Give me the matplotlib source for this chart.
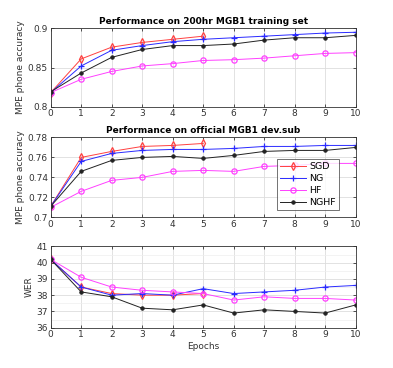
import matplotlib
matplotlib.use('Agg')
import matplotlib.pyplot as plt
import numpy as np
from matplotlib.ticker import MultipleLocator

plt.rcParams['font.family'] = 'DejaVu Sans'
plt.rcParams['font.size'] = 6.5
plt.rcParams['xtick.direction'] = 'in'
plt.rcParams['ytick.direction'] = 'in'
plt.rcParams['axes.edgecolor'] = '#333333'
plt.rcParams['xtick.color'] = '#333333'
plt.rcParams['ytick.color'] = '#333333'

epochs = np.arange(11)
epochs_sgd = np.arange(6)

# training set MPE accuracy
train_sgd = [0.818, 0.861, 0.876, 0.882, 0.886, 0.890]
train_ng = [0.818, 0.852, 0.872, 0.878, 0.883, 0.886, 0.888, 0.890, 0.892, 0.894, 0.895]
train_hf = [0.818, 0.835, 0.845, 0.852, 0.855, 0.859, 0.860, 0.862, 0.865, 0.868, 0.869]
train_nghf = [0.819, 0.843, 0.863, 0.873, 0.878, 0.878, 0.880, 0.885, 0.888, 0.888, 0.891]

# dev.sub MPE accuracy
dev_sgd = [0.711, 0.760, 0.766, 0.771, 0.772, 0.774]
dev_ng = [0.711, 0.756, 0.764, 0.767, 0.768, 0.768, 0.769, 0.771, 0.771, 0.772, 0.772]
dev_hf = [0.710, 0.726, 0.737, 0.740, 0.746, 0.747, 0.746, 0.751, 0.752, 0.754, 0.754]
dev_nghf = [0.711, 0.746, 0.757, 0.760, 0.761, 0.759, 0.762, 0.766, 0.767, 0.767, 0.770]

# dev.sub WER
wer_sgd = [40.2, 38.5, 38.1, 38.0, 38.0, 38.1]
wer_ng = [40.2, 38.5, 38.0, 38.1, 38.0, 38.4, 38.1, 38.2, 38.3, 38.5, 38.6]
wer_hf = [40.2, 39.1, 38.5, 38.3, 38.2, 38.1, 37.7, 37.9, 37.8, 37.8, 37.7]
wer_nghf = [40.2, 38.2, 37.9, 37.2, 37.1, 37.4, 36.9, 37.1, 37.0, 36.9, 37.4]

labels = ['SGD', 'NG', 'HF', 'NGHF']


def draw(ax, sgd, ng, hf, nghf):
    ax.plot(epochs_sgd, sgd, color='#ff4040', marker='d', mfc='none', mew=0.9,
            markersize=3.8, lw=0.7, label=labels[0])
    ax.plot(epochs, ng, color='#2a2aff', marker='+', mew=0.9,
            markersize=4.2, lw=0.7, label=labels[1])
    ax.plot(epochs, hf, color='#ff40ff', marker='o', mfc='none', mew=0.9,
            markersize=3.8, lw=0.7, label=labels[2])
    ax.plot(epochs, nghf, color='#222222', marker='o', mew=0.5,
            markersize=2.6, lw=0.7, label=labels[3])
    ax.set_xlim(0, 10)
    ax.set_xticks(epochs)
    ax.grid(True, color='#dddddd', lw=0.6)
    ax.set_axisbelow(True)
    ax.tick_params(length=2.5, width=0.6, top=True, right=True, pad=2)
    for s in ax.spines.values():
        s.set_linewidth(0.6)


fig = plt.figure(figsize=(3.93, 3.68), dpi=100)
ax1 = fig.add_axes([0.129, 0.710, 0.776, 0.213])
ax2 = fig.add_axes([0.129, 0.4095, 0.776, 0.217])
ax3 = fig.add_axes([0.129, 0.1095, 0.776, 0.221])

draw(ax1, train_sgd, train_ng, train_hf, train_nghf)
ax1.set_ylim(0.8, 0.9)
ax1.set_yticks([0.8, 0.85, 0.9])
ax1.set_yticklabels(['0.8', '0.85', '0.9'])
ax1.set_title('Performance on 200hr MGB1 training set', fontsize=6.5,
              fontweight='bold', pad=3)
ax1.set_ylabel('MPE phone accuracy', color='#333333', labelpad=2)

draw(ax2, dev_sgd, dev_ng, dev_hf, dev_nghf)
ax2.set_ylim(0.7, 0.78)
ax2.set_yticks([0.7, 0.72, 0.74, 0.76, 0.78])
ax2.set_yticklabels(['0.7', '0.72', '0.74', '0.76', '0.78'])
ax2.set_title('Performance on official MGB1 dev.sub', fontsize=6.5,
              fontweight='bold', pad=3)
ax2.set_ylabel('MPE phone accuracy', color='#333333', labelpad=2)
ax2.legend(loc='lower right', bbox_to_anchor=(0.946, 0.09), fontsize=6.8,
           frameon=True, fancybox=False, edgecolor='#333333',
           handlelength=2.8, borderpad=0.35, labelspacing=0.3,
           handletextpad=0.3, borderaxespad=0).get_frame().set_linewidth(0.6)

draw(ax3, wer_sgd, wer_ng, wer_hf, wer_nghf)
ax3.set_ylim(36, 41)
ax3.set_yticks([36, 37, 38, 39, 40, 41])
ax3.yaxis.set_minor_locator(MultipleLocator(0.5))
ax3.grid(True, which='minor', axis='y', color='#eeeeee', lw=0.5)
ax3.tick_params(which='minor', length=0)
ax3.set_ylabel('WER', color='#333333', labelpad=2)
ax3.set_xlabel('Epochs', color='#333333', labelpad=2)

fig.savefig('out.png', dpi=100)
